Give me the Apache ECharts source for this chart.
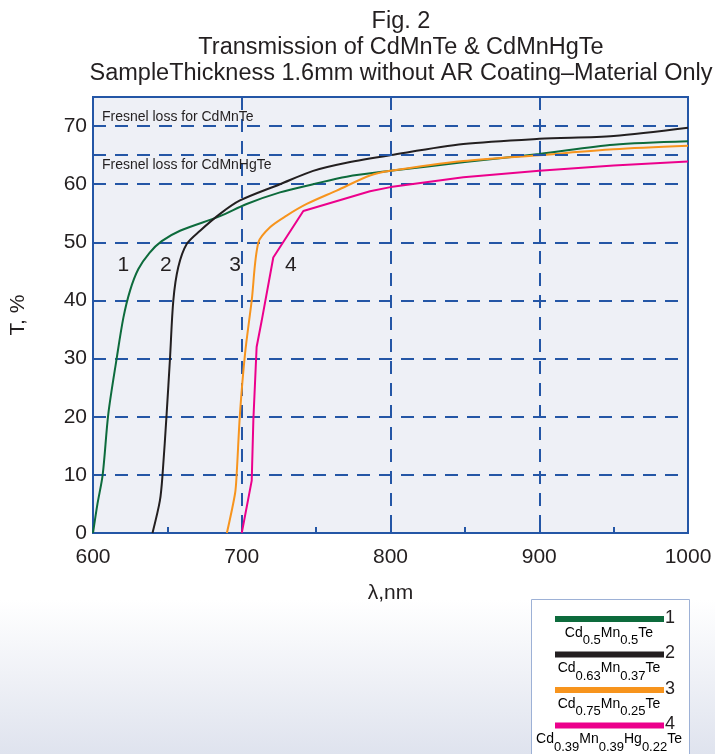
<!DOCTYPE html>
<html>
<head>
<meta charset="utf-8">
<script src="https://cdn.jsdelivr.net/npm/echarts@6/dist/echarts.min.js"></script>
<style>
html,body{margin:0;padding:0;}
#chart{width:715px;height:754px;background:linear-gradient(to bottom,#ffffff 0px,#ffffff 600px,#dfe3ee 754px);}
</style>
</head>
<body>
<div id="chart"></div>
<script>
// ---- data ----
const titleLines = ['Fig. 2', 'Transmission of CdMnTe & CdMnHgTe', 'SampleThickness 1.6mm without AR Coating\u2013Material Only'];
const xTicks = [600, 700, 800, 900, 1000];
const yTicks = [0, 10, 20, 30, 40, 50, 60, 70];
const fresnelLevels = [70, 65];

const wl1 = [600, 603, 606.5, 610.3, 615.9, 620.4, 624.9, 630.5, 638, 646.2, 658.5, 685.4, 703.3, 725.7, 748, 770.5, 800, 850, 900, 950, 1000];
const t1  = [0, 5, 10, 20.5, 30, 37, 41.7, 45.4, 48.2, 50.2, 52, 54.5, 56.6, 58.6, 60, 61.3, 62.3, 63.8, 65.2, 66.8, 67.4];

const wl2 = [640, 645, 646.8, 649.5, 651.8, 654, 657.3, 663, 672, 685.4, 698.8, 725.7, 748, 770.5, 800, 849, 900, 950, 1000];
const t2  = [0, 5.6, 10.2, 20.5, 30.2, 40, 45.7, 49.7, 52, 54.9, 57.2, 60, 62.3, 63.7, 65, 66.9, 67.8, 68.3, 69.7];

const wl3 = [690, 695.5, 696.6, 698.8, 702.2, 706.7, 711.2, 719, 730.2, 743.7, 763.8, 786.2, 800, 849, 900, 950, 1000];
const t3  = [0, 6.8, 10.2, 20.5, 30.8, 40, 50, 52.6, 54.6, 56.6, 58.9, 61.5, 62.3, 64, 65, 66, 66.6];

const wl4 = [700, 706.7, 707.8, 710, 713.4, 721.2, 741.4, 786.2, 800, 849, 900, 950, 1000];
const t4  = [0, 9, 19.4, 32, 36.5, 47.4, 55.4, 58.8, 59.5, 61.2, 62.3, 63.2, 63.9];

const seriesNums = ['1', '2', '3', '4'];
const seriesColors = ['#0d6b3c', '#231f20', '#f7941d', '#ec008c'];
const formulas = [
  '{n|Cd}{s|0.5}{n|Mn}{s|0.5}{n|Te}',
  '{n|Cd}{s|0.63}{n|Mn}{s|0.37}{n|Te}',
  '{n|Cd}{s|0.75}{n|Mn}{s|0.25}{n|Te}',
  '{n|Cd}{s|0.39}{n|Mn}{s|0.39}{n|Hg}{s|0.22}{n|Te}'
];

// curve number labels (nm, %)
const numLabelX = [620.4, 649, 695.5, 733];
const numLabelY = [46, 46, 46, 46];
// Fresnel annotations (nm, %)
const noteText = ['Fresnel loss for CdMnTe', 'Fresnel loss for CdMnHgTe'];
const noteX = [606, 606];
const noteY = [71.6, 63.2];

// ---- chart ----
const FONT = '"Liberation Sans", Arial, sans-serif';
const AX = '#2456a6';
const chart = echarts.init(document.getElementById('chart'));

const curves = [[wl1, t1], [wl2, t2], [wl3, t3], [wl4, t4]];
const series = curves.map((c, i) => ({
  type: 'line',
  name: seriesNums[i],
  data: c[0].map((x, k) => [x, c[1][k]]),
  showSymbol: false,
  smooth: i === 3 ? false : 0.3,
  lineStyle: { color: seriesColors[i], width: 2 },
  itemStyle: { color: seriesColors[i] },
  z: 3
}));

series.push({
  type: 'line',
  data: [],
  markLine: {
    silent: true,
    symbol: 'none',
    label: { show: false },
    lineStyle: { color: AX, width: 2, type: [13, 9] },
    data: [{ yAxis: fresnelLevels[1] }]
  }
});

series.push({
  type: 'scatter',
  symbolSize: 0,
  itemStyle: { opacity: 1 },
  data: numLabelX.map((x, i) => ({ value: [x, numLabelY[i]], name: seriesNums[i] })),
  label: { show: true, position: 'inside', formatter: p => p.name, fontFamily: FONT, fontSize: 21, color: '#231f20', opacity: 1 },
  z: 5
});

series.push({
  type: 'scatter',
  symbolSize: 0,
  itemStyle: { opacity: 1 },
  data: noteX.map((x, i) => ({ value: [x, noteY[i]], name: noteText[i] })),
  label: { show: true, position: 'right', distance: 0, formatter: p => p.name, fontFamily: FONT, fontSize: 14, color: '#231f20', opacity: 1 },
  z: 5
});

// legend (graphic)
const legendTop = 599, rowH = 35.5;
const graphic = [{
  type: 'rect',
  shape: { x: 531.5, y: legendTop + 0.5, width: 158, height: 170 },
  style: { fill: '#ffffff', stroke: '#9db1d6', lineWidth: 1 },
  z: 10
}];
seriesNums.forEach((n, i) => {
  const ly = 619 + i * rowH;
  graphic.push({
    type: 'rect',
    shape: { x: 555, y: ly - 3, width: 109, height: 6 },
    style: { fill: seriesColors[i] },
    z: 11
  });
  graphic.push({
    type: 'text',
    style: { text: n, x: 665, y: ly - 1, align: 'left', verticalAlign: 'middle', font: '18px ' + FONT, fill: '#231f20' },
    z: 11
  });
  graphic.push({
    type: 'text',
    style: {
      text: formulas[i], x: 609, y: ly + 7, align: 'center', verticalAlign: 'top',
      rich: {
        n: { fontFamily: FONT, fontSize: 14, lineHeight: 16, verticalAlign: 'top', color: '#231f20' },
        s: { fontFamily: FONT, fontSize: 13, lineHeight: 14, padding: [8, 0, 0, 0], verticalAlign: 'top', color: '#231f20' }
      }
    },
    z: 11
  });
});

chart.setOption({
  backgroundColor: 'transparent',
  animation: false,
  title: {
    text: titleLines.join('\n'),
    left: 396, top: 4, textAlign: 'center',
    textStyle: { fontFamily: FONT, fontSize: 23.5, lineHeight: 26, fontWeight: 'normal', color: '#231f20' }
  },
  grid: {
    left: 93, right: 27, top: 97, bottom: 221,
    show: true, backgroundColor: '#eef0f6', borderColor: AX, borderWidth: 2
  },
  xAxis: {
    type: 'value', min: 600, max: 1000, interval: 100,
    name: '\u03bb,nm', nameLocation: 'middle', nameGap: 50,
    nameTextStyle: { fontFamily: FONT, fontSize: 21, color: '#231f20' },
    axisLine: { show: true, lineStyle: { color: AX, width: 2 } },
    axisTick: { show: true, inside: true, length: 6, lineStyle: { color: AX, width: 2 } },
    minorTick: { show: true, splitNumber: 2, length: 6, lineStyle: { color: AX, width: 2 } },
    axisLabel: { fontFamily: FONT, fontSize: 21, color: '#231f20', margin: 14,
      formatter: v => xTicks.indexOf(v) >= 0 ? String(v) : '' },
    splitLine: { show: true, lineStyle: { color: AX, width: 2, type: [13, 9] } }
  },
  yAxis: {
    type: 'value', min: 0, max: 75, interval: 10,
    name: 'T, %', nameLocation: 'middle', nameGap: 64, nameRotate: 90,
    nameTextStyle: { fontFamily: FONT, fontSize: 21, color: '#231f20' },
    axisLine: { show: true, lineStyle: { color: AX, width: 2 } },
    axisTick: { show: true, inside: true, length: 10, lineStyle: { color: AX, width: 2 } },
    axisLabel: { fontFamily: FONT, fontSize: 21, color: '#231f20', margin: 6,
      formatter: v => yTicks.indexOf(v) >= 0 ? String(v) : '' },
    splitLine: { show: true, lineStyle: { color: AX, width: 2, type: [13, 9] } }
  },
  series: series,
  graphic: graphic
});
</script>
</body>
</html>
